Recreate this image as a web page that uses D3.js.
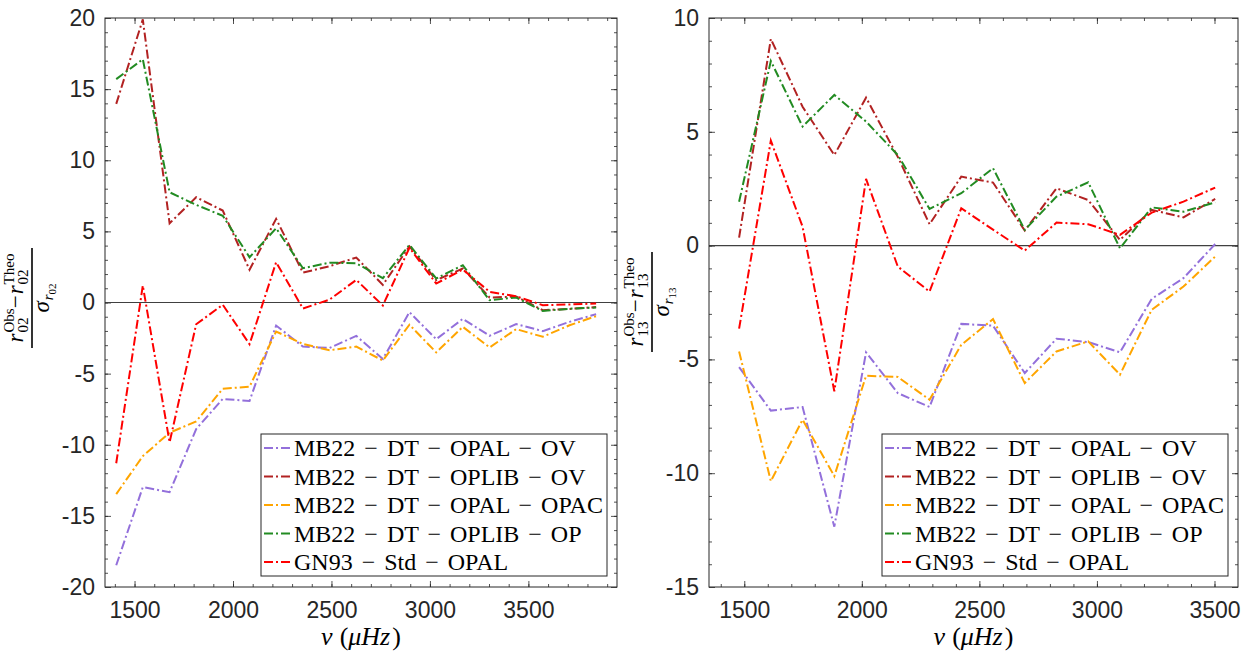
<!DOCTYPE html>
<html>
<head>
<meta charset="utf-8">
<script src="https://cdn.jsdelivr.net/npm/d3@7"></script>
<style>
  body { margin: 0; background: #fff; }
  svg { display: block; }
</style>
</head>
<body>
<script>
// frequencies (muHz) of the ratios
var nuR02 = [1407,1542,1678,1813,1948,2084,2219,2355,2490,2626,2761,2896,3032,3167,3303,3438,3573,3709,3844];
var nuR13 = [1478,1613,1748,1883,2018,2153,2288,2423,2558,2693,2828,2963,3098,3233,3368,3503];

// (r_obs - r_theo)/sigma for r02
var r02_opalOV   = [-18.47,-12.98,-13.33,-8.9,-6.78,-6.92,-1.62,-3.1,-3.2,-2.35,-3.97,-0.68,-2.58,-1.15,-2.34,-1.52,-2.01,-1.36,-0.82];
var r02_oplibOV  = [13.96,19.9,5.57,7.4,6.46,2.3,5.88,2.1,2.55,3.16,1.24,3.95,1.57,2.39,0.35,0.42,-0.54,-0.45,-0.32];
var r02_opalOPAC = [-13.47,-10.8,-9.15,-8.36,-6.06,-5.92,-2.04,-2.91,-3.36,-3.1,-4.08,-1.56,-3.51,-1.71,-3.16,-1.87,-2.41,-1.6,-0.96];
var r02_oplibOP  = [15.7,17.1,7.75,6.86,6.1,3.18,5.22,2.41,2.8,2.76,1.71,4.05,1.69,2.62,0.16,0.35,-0.59,-0.44,-0.35];
var r02_gn93     = [-11.3,1.19,-9.83,-1.53,-0.16,-2.93,2.83,-0.42,0.2,1.59,-0.21,3.85,1.33,2.32,0.75,0.44,-0.19,-0.14,-0.07];

// same for r13
var r13_opalOV   = [-5.34,-7.25,-7.09,-12.35,-4.69,-6.48,-7.09,-3.44,-3.52,-5.6,-4.09,-4.24,-4.69,-2.34,-1.43,0.07];
var r13_oplibOV  = [0.35,9.08,6.1,3.98,6.5,3.9,0.94,3.03,2.77,0.66,2.52,2.0,0.25,1.57,1.24,2.05];
var r13_opalOPAC = [-4.65,-10.35,-7.65,-10.13,-5.72,-5.77,-6.77,-4.36,-3.23,-6.04,-4.65,-4.21,-5.67,-2.82,-1.8,-0.48];
var r13_oplibOP  = [1.93,8.11,5.23,6.62,5.45,3.98,1.61,2.3,3.4,0.69,2.15,2.78,-0.12,1.68,1.49,1.9];
var r13_gn93     = [-3.65,4.61,0.83,-6.4,2.93,-0.92,-2.02,1.64,0.7,-0.22,1.01,0.94,0.47,1.45,1.93,2.55];

var names  = ["MB22 \u2212 DT \u2212 OPAL \u2212 OV", "MB22 \u2212 DT \u2212 OPLIB \u2212 OV",
              "MB22 \u2212 DT \u2212 OPAL \u2212 OPAC", "MB22 \u2212 DT \u2212 OPLIB \u2212 OP",
              "GN93 \u2212 Std \u2212 OPAL"];
var colors = ["#9370db", "#b22222", "#ffa500", "#228b22", "#ff0000"];

var xTicks = [1500, 2000, 2500, 3000, 3500];

var sans = "'Liberation Sans', Arial, Helvetica, sans-serif";
var serif = "'Liberation Serif', 'Times New Roman', serif";
var ink = "#262626";
var dash = "9,3,2,3";

var svg = d3.select("body").append("svg").attr("width", 1249).attr("height", 657);

function measure(str, size, italic) {
  var t = svg.append("text").attr("font-family", serif).attr("font-size", size)
    .attr("font-style", italic ? "italic" : "normal").text(str);
  var w = t.node().getComputedTextLength();
  t.remove();
  return w;
}

// lay out a little math expression, returns its width
function mathRun(text, items) {
  var x = 0;
  items.forEach(function(it) {
    if (it.sup !== undefined) {
      var w1 = measure(it.sup, it.size, false), w2 = measure(it.sub, it.size, false);
      text.append("tspan").attr("x", x).attr("y", it.supDy).attr("font-size", it.size).text(it.sup);
      text.append("tspan").attr("x", x).attr("y", it.subDy).attr("font-size", it.size).text(it.sub);
      x += Math.max(w1, w2);
    } else {
      text.append("tspan").attr("x", x).attr("y", it.dy || 0).attr("font-size", it.size)
        .attr("font-style", it.it ? "italic" : "normal").text(it.t);
      x += measure(it.t, it.size, it.it) + (it.pad || 0);
    }
  });
  return x;
}

function drawPanel(p) {
  var x = d3.scaleLinear().domain(p.xdom).range([p.x0, p.x1]);
  var y = d3.scaleLinear().domain(p.ydom).range([p.y1, p.y0]);
  var g = svg.append("g");

  var xMinor = d3.range(1400, p.xdom[1], 100);
  var yMinor = d3.range(p.ydom[0] + 1, p.ydom[1], 1);
  var yMajor = d3.range(p.ydom[0], p.ydom[1] + 1, 5);

  function axis(a, tr) {
    var ax = g.append("g").attr("transform", tr).call(a);
    ax.select(".domain").remove();
    ax.selectAll("line").attr("stroke", ink).attr("stroke-width", 0.8);
    ax.selectAll("text").attr("font-family", sans).attr("font-size", 23).attr("fill", ink);
    return ax;
  }
  // minor ticks
  axis(d3.axisBottom(x).tickValues(xMinor).tickSize(-3).tickFormat(""), "translate(0," + p.y1 + ")");
  axis(d3.axisTop(x).tickValues(xMinor).tickSize(-3).tickFormat(""), "translate(0," + p.y0 + ")");
  axis(d3.axisLeft(y).tickValues(yMinor).tickSize(-3).tickFormat(""), "translate(" + p.x0 + ",0)");
  axis(d3.axisRight(y).tickValues(yMinor).tickSize(-3).tickFormat(""), "translate(" + p.x1 + ",0)");
  // major ticks
  axis(d3.axisBottom(x).tickValues(xTicks).tickSize(-6).tickPadding(15).tickFormat(d3.format("d")), "translate(0," + p.y1 + ")");
  axis(d3.axisTop(x).tickValues(xTicks).tickSize(-6).tickFormat(""), "translate(0," + p.y0 + ")");
  axis(d3.axisLeft(y).tickValues(yMajor).tickSize(-6).tickPadding(10).tickFormat(function(d) { return String(d); }), "translate(" + p.x0 + ",0)");
  axis(d3.axisRight(y).tickValues(yMajor).tickSize(-6).tickFormat(""), "translate(" + p.x1 + ",0)");

  // zero line
  g.append("line").attr("x1", p.x0).attr("x2", p.x1).attr("y1", y(0)).attr("y2", y(0))
    .attr("stroke", "#404040").attr("stroke-width", 1.2);

  var line = d3.line().x(function(d) { return x(d[0]); }).y(function(d) { return y(d[1]); });
  p.series.forEach(function(s, i) {
    g.append("path").datum(p.nu.map(function(n, j) { return [n, s[j]]; }))
      .attr("d", line).attr("fill", "none").attr("stroke", colors[i])
      .attr("stroke-width", 2).attr("stroke-dasharray", dash);
  });

  // frame
  g.append("rect").attr("x", p.x0).attr("y", p.y0).attr("width", p.x1 - p.x0).attr("height", p.y1 - p.y0)
    .attr("fill", "none").attr("stroke", ink).attr("stroke-width", 1);

  // x label
  var xl = g.append("text").attr("font-family", serif).attr("fill", "#000");
  var wx = mathRun(xl, [
    {t: "\u03bd", size: 26, it: true, pad: 7},
    {t: "(", size: 26},
    {t: "\u03bcHz", size: 26, it: true, pad: 2},
    {t: ")", size: 26}
  ]);
  xl.attr("transform", "translate(" + ((p.x0 + p.x1) / 2 - wx / 2) + ",645)");

  // y label (fraction, rotated)
  var yl = g.append("g").attr("transform", "translate(" + p.lx + "," + p.ly + ") rotate(-90)");
  var num = yl.append("text").attr("font-family", serif).attr("fill", "#000");
  var wn = mathRun(num, [
    {t: "r", size: 23, it: true, pad: 1},
    {sup: "Obs", sub: p.sub, size: 15, supDy: -9, subDy: 5},
    {t: "\u2212", size: 23, pad: 1},
    {t: "r", size: 23, it: true, pad: 1},
    {sup: "Theo", sub: p.sub, size: 15, supDy: -9, subDy: 5}
  ]);
  num.attr("transform", "translate(" + (-wn / 2) + ",23)");
  yl.append("line").attr("x1", -50).attr("x2", 50).attr("y1", 32).attr("y2", 32)
    .attr("stroke", "#000").attr("stroke-width", 1.6);
  var den = yl.append("text").attr("font-family", serif).attr("fill", "#000");
  var wd = mathRun(den, [
    {t: "\u03c3", size: 23, it: true, pad: 1},
    {t: "r", size: 15, it: true, dy: 4},
    {t: p.sub, size: 11, dy: 7}
  ]);
  den.attr("transform", "translate(" + (-wd / 2) + ",49)");

  // legend
  var lw = 346, lh = 142;
  var lx = p.x1 - 10 - lw, ly = p.y1 - 11 - lh;
  var lg = g.append("g").attr("transform", "translate(" + lx + "," + ly + ")");
  lg.append("rect").attr("width", lw).attr("height", lh).attr("fill", "#fff")
    .attr("stroke", ink).attr("stroke-width", 1);
  names.forEach(function(n, i) {
    var cy = 14 + i * 28.5;
    lg.append("line").attr("x1", 3).attr("x2", 30).attr("y1", cy).attr("y2", cy)
      .attr("stroke", colors[i]).attr("stroke-width", 2).attr("stroke-dasharray", dash);
    lg.append("text").attr("x", 33).attr("y", cy + 8).attr("font-family", serif)
      .attr("font-size", 24).attr("word-spacing", 3).attr("fill", "#000").text(n);
  });
}

drawPanel({
  x0: 105, x1: 617, y0: 18, y1: 587,
  xdom: [1350, 3950], ydom: [-20, 20],
  nu: nuR02, series: [r02_opalOV, r02_oplibOV, r02_opalOPAC, r02_oplibOP, r02_gn93],
  sub: "02", lx: 0, ly: 298
});
drawPanel({
  x0: 709, x1: 1238, y0: 18, y1: 587,
  xdom: [1350, 3600], ydom: [-15, 10],
  nu: nuR13, series: [r13_opalOV, r13_oplibOV, r13_opalOPAC, r13_oplibOP, r13_gn93],
  sub: "13", lx: 620, ly: 302
});
</script>
</body>
</html>
